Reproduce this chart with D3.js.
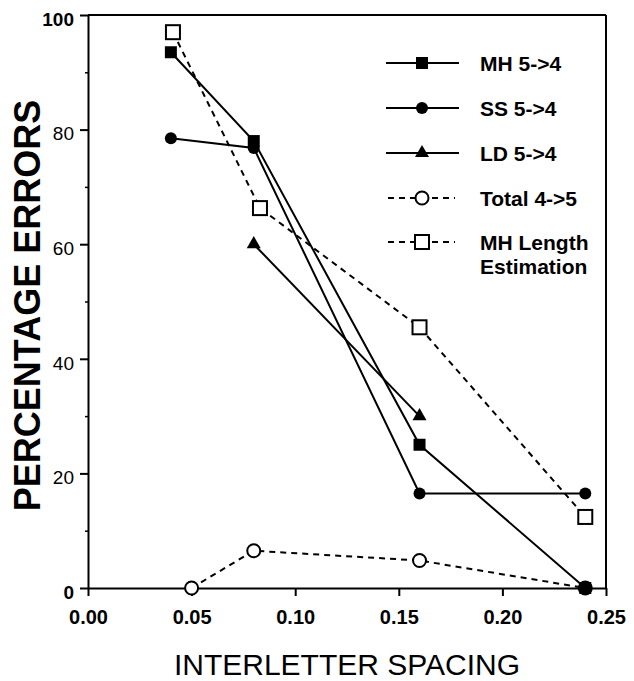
<!DOCTYPE html>
<html>
<head>
<meta charset="utf-8">
<script src="https://cdn.jsdelivr.net/npm/d3@7"></script>
<style>
  html, body { margin: 0; padding: 0; background: #fff; }
  svg { display: block; }
</style>
</head>
<body>
<div id="chart"></div>
<script>
// ---- data ----
const mhX = [0.04, 0.08, 0.16, 0.24]
const mhY = [93.5, 78, 25, 0]
const ssX = [0.04, 0.08, 0.16, 0.24]
const ssY = [78.5, 76.8, 16.5, 16.5]
const ldX = [0.08, 0.16]
const ldY = [60, 30]
const totalX = [0.05, 0.08, 0.16, 0.24]
const totalY = [0, 6.5, 4.8, 0]
const lenX = [0.041, 0.083, 0.16, 0.24]
const lenY = [97, 66.3, 45.5, 12.4]

const xTicks = [0, 0.05, 0.10, 0.15, 0.20, 0.25]
const yTicks = [0, 20, 40, 60, 80, 100]
const yMinor = [10, 30, 50, 70, 90]
const boldY = [0, 100]   // these two print heavier in the scan

const series = [
  { name: 'Total 4->5', xs: totalX, ys: totalY, dash: '6,5', marker: 'openCircle' },
  { name: 'MH Length|Estimation', xs: lenX, ys: lenY, dash: '6,5', marker: 'openSquare' },
  { name: 'LD 5->4', xs: ldX, ys: ldY, dash: null, marker: 'triangle' },
  { name: 'SS 5->4', xs: ssX, ys: ssY, dash: null, marker: 'circle' },
  { name: 'MH 5->4', xs: mhX, ys: mhY, dash: null, marker: 'square' },
]
const legendOrder = ['MH 5->4', 'SS 5->4', 'LD 5->4', 'Total 4->5', 'MH Length|Estimation']

const W = 634, H = 681
const FONT = '"Liberation Sans", Arial, Helvetica, sans-serif'

const x = d3.scaleLinear().domain([0, 0.25]).range([88, 606])
const y = d3.scaleLinear().domain([0, 100]).range([588, 15])

const svg = d3.select('#chart').append('svg')
  .attr('width', W).attr('height', H)
  .attr('viewBox', `0 0 ${W} ${H}`)

// ---- marker drawing ----
function drawMarker(g, type, cx, cy) {
  if (type === 'square') {
    g.append('path').attr('d', d3.symbol(d3.symbolSquare, 144)())
      .attr('transform', `translate(${cx},${cy})`).attr('fill', '#000')
  } else if (type === 'circle') {
    g.append('circle').attr('cx', cx).attr('cy', cy).attr('r', 6).attr('fill', '#000')
  } else if (type === 'triangle') {
    g.append('path').attr('d', d3.symbol(d3.symbolTriangle, 85)())
      .attr('transform', `translate(${cx},${cy})`).attr('fill', '#000')
  } else if (type === 'openCircle') {
    g.append('circle').attr('cx', cx).attr('cy', cy).attr('r', 6.5)
      .attr('fill', '#fff').attr('stroke', '#000').attr('stroke-width', 2)
  } else if (type === 'openSquare') {
    g.append('rect').attr('x', cx - 7).attr('y', cy - 7).attr('width', 14).attr('height', 14)
      .attr('fill', '#fff').attr('stroke', '#000').attr('stroke-width', 2)
  }
}

// ---- axes ----
const yAxis = svg.append('g')
  .attr('transform', `translate(${x(0)},0)`)
  .call(d3.axisLeft(y).tickValues(yTicks).tickSize(8).tickSizeOuter(0).tickPadding(6)
    .tickFormat(d3.format('d')))
yAxis.select('.domain').attr('stroke-width', 2)
yAxis.selectAll('.tick line').attr('stroke-width', 2)
yAxis.selectAll('.tick text')
  .attr('font-family', FONT).attr('font-size', 19).attr('fill', '#000')
  .attr('font-weight', d => boldY.includes(d) ? 'bold' : 'normal')
  .attr('dy', '0.7em').attr('y', -3)

svg.append('g')
  .attr('transform', `translate(${x(0)},0)`)
  .call(d3.axisLeft(y).tickValues(yMinor).tickSize(3).tickFormat(''))
  .call(g => g.select('.domain').remove())
  .selectAll('.tick line').attr('stroke-width', 1.5)

const xAxis = svg.append('g')
  .attr('transform', `translate(0,${y(0)})`)
  .call(d3.axisBottom(x).tickValues(xTicks).tickSize(8).tickSizeOuter(0).tickPadding(14)
    .tickFormat(d3.format('.2f')))
xAxis.select('.domain').attr('stroke-width', 2)
xAxis.selectAll('.tick line').attr('stroke-width', 2)
xAxis.selectAll('.tick text')
  .attr('font-family', FONT).attr('font-size', 20).attr('font-weight', 'bold').attr('fill', '#000')

// frame: top and right edges
svg.append('line')
  .attr('x1', x(0)).attr('x2', x(0.25)).attr('y1', y(100)).attr('y2', y(100))
  .attr('stroke', '#000').attr('stroke-width', 2)
svg.append('line')
  .attr('x1', x(0.25)).attr('x2', x(0.25)).attr('y1', y(100)).attr('y2', y(0))
  .attr('stroke', '#000').attr('stroke-width', 2)

// axis titles
svg.append('text')
  .attr('transform', `translate(40,${(y(0) + y(100)) / 2 + 4}) rotate(-90)`)
  .attr('text-anchor', 'middle')
  .attr('font-family', FONT).attr('font-size', 36).attr('font-weight', 'bold')
  .text('PERCENTAGE ERRORS')

svg.append('text')
  .attr('x', (x(0) + x(0.25)) / 2).attr('y', 675)
  .attr('text-anchor', 'middle')
  .attr('font-family', FONT).attr('font-size', 30)
  .text('INTERLETTER SPACING')

// ---- series ----
const line = d3.line().x(d => x(d[0])).y(d => y(d[1]))
const linesG = svg.append('g').attr('class', 'lines')
const marksG = svg.append('g').attr('class', 'marks')

series.forEach(s => {
  const pts = s.xs.map((v, i) => [v, s.ys[i]])
  linesG.append('path')
    .attr('d', line(pts))
    .attr('fill', 'none').attr('stroke', '#000').attr('stroke-width', 2)
    .attr('stroke-dasharray', s.dash)
})
series.forEach(s => {
  s.xs.forEach((v, i) => drawMarker(marksG, s.marker, x(v), y(s.ys[i])))
})

// ---- legend ----
const legend = svg.append('g').attr('class', 'legend')
const rowBase = [71, 116, 161, 206, 250]
legendOrder.forEach((name, i) => {
  const s = series.find(d => d.name === name)
  const b = rowBase[i]
  const ly = b - 8
  legend.append('line')
    .attr('x1', s.dash ? 388 : 386).attr('x2', s.dash ? 455 : 459)
    .attr('y1', ly).attr('y2', ly)
    .attr('stroke', '#000').attr('stroke-width', 2)
    .attr('stroke-dasharray', s.dash)
  drawMarker(legend, s.marker, 422, ly)
  const t = legend.append('text')
    .attr('x', 480).attr('y', b)
    .attr('font-family', FONT).attr('font-size', 21).attr('font-weight', 'bold')
  name.split('|').forEach((part, k) => {
    t.append('tspan').attr('x', 480).attr('dy', k === 0 ? 0 : 24).text(part)
  })
})
</script>
</body>
</html>
